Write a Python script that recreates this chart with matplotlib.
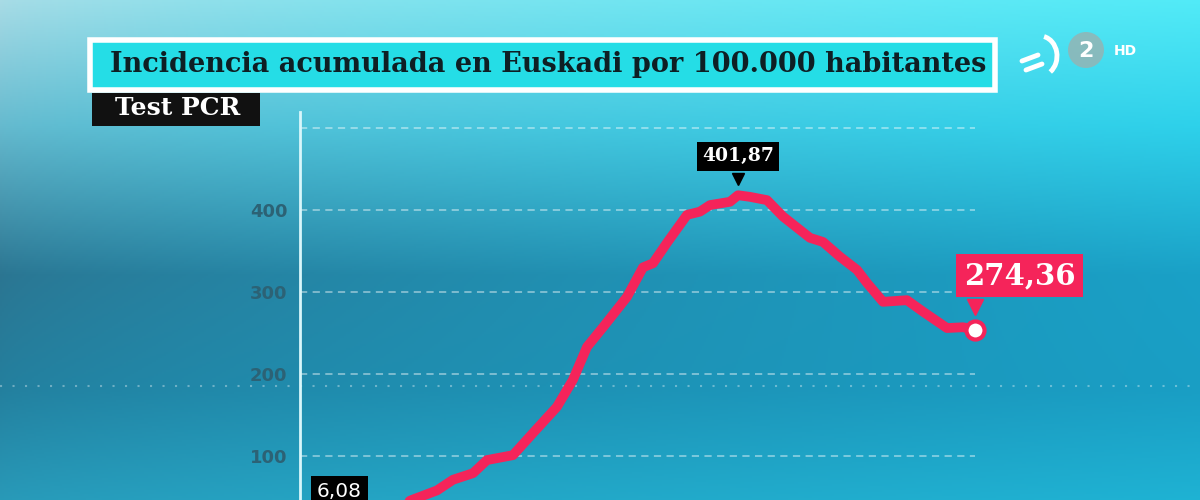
import numpy as np
import matplotlib
matplotlib.use('Agg')
import matplotlib.pyplot as plt
import matplotlib.transforms as mtrans
from matplotlib.patches import Rectangle, Ellipse, Arc
from matplotlib.lines import Line2D

# data (x = day position, y = incidence per 100.000)
days = [0, 3, 6, 8.5, 10.1, 12.7, 14.3, 16.3, 17.7, 20.3, 22.3, 24.7, 26.3, 27.7,
        29.3, 31.7, 33.3, 34.3, 35.7, 37.7, 39, 40, 42, 42.8, 44, 45.7, 47.3, 50,
        51.3, 53, 54.7, 55.7, 57.3, 59.7, 61.3, 63.7, 65.3, 66.5]
values = [6.08, 12, 22, 36, 46, 58, 71, 79, 95, 101, 128, 160, 193, 233,
          257, 294, 330, 335, 360, 394, 398, 406, 410, 418, 416, 412, 392, 366,
          361, 343, 327, 311, 288, 290, 276, 256, 257, 254]
y_ticks = [100, 200, 300, 400]
grid_levels = [100, 200, 300, 400, 500]
title = 'Incidencia acumulada en Euskadi por 100.000 habitantes'
subtitle = 'Test PCR'
first_label = '6,08'
peak_label = '401,87'
last_label = '274,36'

W, H = 1200, 500
fig = plt.figure(figsize=(12, 5), dpi=100)


def fx(px):
    return px / W


def fy(py):
    return 1 - py / H


# background gradient
bg = fig.add_axes([0, 0, 1, 1], zorder=-10)
bg.axis('off')
stops = [0.0, 0.25, 0.55, 0.78, 1.0]
left = np.array([[0.66, 0.86, 0.90], [0.40, 0.73, 0.81], [0.17, 0.46, 0.57],
                 [0.14, 0.50, 0.62], [0.16, 0.60, 0.72]])
right = np.array([[0.32, 0.92, 0.97], [0.18, 0.82, 0.92], [0.10, 0.63, 0.78],
                  [0.10, 0.62, 0.77], [0.12, 0.70, 0.83]])
rows = np.linspace(0, 1, 250)
cols = np.linspace(0, 1, 600) ** 0.7
lc = np.stack([np.interp(rows, stops, left[:, k]) for k in range(3)], axis=1)
rc = np.stack([np.interp(rows, stops, right[:, k]) for k in range(3)], axis=1)
img = lc[:, None, :] * (1 - cols[None, :, None]) + rc[:, None, :] * cols[None, :, None]
bg.imshow(img, aspect='auto', extent=[0, 1, 0, 1], origin='upper')
bg.set_xlim(0, 1)
bg.set_ylim(0, 1)
bg.axhline(fy(386), color='white', lw=1.5, alpha=0.35, ls=(0, (1, 5)))

# main chart
ax = fig.add_axes([fx(300), 0, fx(975) - fx(300), fy(112)])
ax.patch.set_alpha(0)
ax.set_xlim(-1, 66.5)
ax.set_ylim(46.3, 519.5)
for s in ['top', 'right', 'bottom']:
    ax.spines[s].set_visible(False)
ax.spines['left'].set_color('#d9f7fb')
ax.spines['left'].set_linewidth(2)
ax.set_xticks([])
ax.set_yticks(y_ticks)
ax.set_yticklabels([str(v) for v in y_ticks])
ax.tick_params(axis='y', length=0, pad=9, labelsize=13, labelcolor='#2c6275')
for lab in ax.get_yticklabels():
    lab.set_fontweight('bold')
ax.hlines(grid_levels, -1, 66.5, colors='white', alpha=0.45, lw=1.3,
          linestyles=(0, (4, 3)))

ax.plot(days, values, color='#f5245a', lw=7, solid_capstyle='round',
        solid_joinstyle='round', zorder=5)
ax.plot(days[-1], values[-1], 'o', ms=13, mfc='white', mec='#f5245a', mew=3,
        zorder=7, clip_on=False)

# peak label
ip = int(np.argmax(values))
ax.annotate(peak_label, (days[ip], values[ip]), xytext=(0, 28),
            textcoords='offset points', ha='center', va='center',
            fontsize=13.5, family='DejaVu Serif', fontweight='bold', color='white',
            bbox=dict(boxstyle='square,pad=0.28', fc='black', ec='none'),
            annotation_clip=False, zorder=8)
ax.plot(days[ip], values[ip], marker='v', ms=9, color='black', zorder=8,
        transform=mtrans.offset_copy(ax.transData, fig=fig, x=0, y=12, units='points'))

# last label
ax.plot(days[-1], values[-1], marker='v', ms=12, color='#f5245a', zorder=6,
        clip_on=False,
        transform=mtrans.offset_copy(ax.transData, fig=fig, x=0, y=16, units='points'))
ax.annotate(last_label, (days[-1], values[-1]), xytext=(32, 39),
            textcoords='offset points', ha='center', va='center',
            fontsize=21, family='DejaVu Serif', fontweight='bold', color='white',
            bbox=dict(boxstyle='square,pad=0.25', fc='#f5245a', ec='none'),
            annotation_clip=False, zorder=8)

# first label
ax.annotate(first_label, (days[0], values[0]), xytext=(21, 30),
            textcoords='offset points', ha='center', va='center',
            fontsize=14.5, family='DejaVu Sans', color='white',
            bbox=dict(boxstyle='square,pad=0.3', fc='black', ec='none'),
            annotation_clip=False, zorder=8)

# title box
fig.patches.append(Rectangle((fx(90), fy(90)), fx(995) - fx(90), fy(40) - fy(90),
                             transform=fig.transFigure, fc='#25dde6', ec='white',
                             lw=4, zorder=2))
fig.text(fx(548), fy(64), title, ha='center', va='center', fontsize=19.5,
         family='DejaVu Serif', fontweight='bold', color='#0e1f24')

# subtitle box
fig.patches.append(Rectangle((fx(92), fy(126)), fx(260) - fx(92), fy(93) - fy(126),
                             transform=fig.transFigure, fc='#111111', ec='none',
                             zorder=2))
fig.text(fx(178), fy(108), subtitle, ha='center', va='center', fontsize=18,
         family='DejaVu Serif', fontweight='bold', color='white')

# channel logo
fig.lines.append(Line2D([fx(1022), fx(1038)], [fy(61), fy(55)], transform=fig.transFigure,
                        color='white', lw=3.5, solid_capstyle='round'))
fig.lines.append(Line2D([fx(1026), fx(1042)], [fy(70), fy(64)], transform=fig.transFigure,
                        color='white', lw=3.5, solid_capstyle='round'))
fig.patches.append(Arc((fx(1040), fy(56)), fx(34), 40 / H, theta1=-75, theta2=85,
                       transform=fig.transFigure, color='white', lw=3.5))
fig.patches.append(Ellipse((fx(1086), fy(50)), fx(36), 36 / H, transform=fig.transFigure,
                           fc='#8fb7b8', ec='none', alpha=0.9))
fig.text(fx(1086), fy(51), '2', ha='center', va='center', fontsize=16,
         fontweight='bold', color='white')
fig.text(fx(1114), fy(51), 'HD', ha='left', va='center', fontsize=10,
         fontweight='bold', color='white')

fig.savefig('out.png', dpi=100)
